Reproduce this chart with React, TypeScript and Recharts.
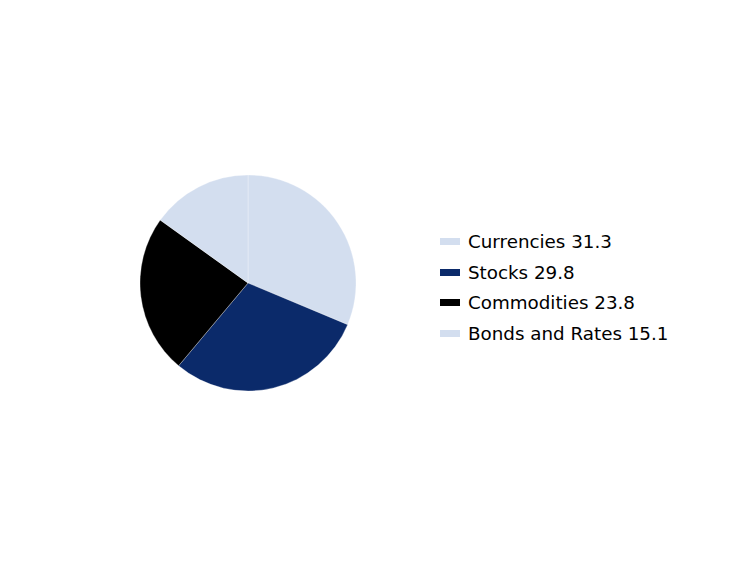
import { PieChart, Pie, Cell, Legend } from "recharts";

const categories = ["Currencies", "Stocks", "Commodities", "Bonds and Rates"];
const shares = [31.3, 29.8, 23.8, 15.1];
const colors = ["#d3deef", "#0b2a6a", "#000000", "#d3deef"];

const data = categories.map((name, i) => ({ name, value: shares[i] }));

const renderLegend = () => (
  <div style={{ fontFamily: "DejaVu Sans", fontSize: 18.3, color: "#000" }}>
    {data.map((d, i) => (
      <div key={d.name} style={{ display: "flex", alignItems: "center", height: 30.7 }}>
        <span
          style={{
            display: "inline-block",
            width: 20,
            height: 7,
            background: colors[i],
            marginRight: 8,
          }}
        />
        <span>
          {d.name} {d.value.toFixed(1)}
        </span>
      </div>
    ))}
  </div>
);

export default function App() {
  return (
    <div style={{ position: "absolute", left: 0, top: 0, width: 744, height: 576, background: "#fff" }}>
      <PieChart width={744} height={576} margin={{ top: 0, right: 0, bottom: 0, left: 0 }}>
        <Pie
          data={data}
          dataKey="value"
          nameKey="name"
          cx={248}
          cy={283}
          outerRadius={108}
          startAngle={90}
          endAngle={-270}
          stroke="#ffffff"
          strokeWidth={0.3}
          isAnimationActive={false}
        >
          {data.map((d, i) => (
            <Cell key={d.name} fill={colors[i]} />
          ))}
        </Pie>
        <Legend
          content={renderLegend}
          layout="vertical"
          wrapperStyle={{ position: "absolute", left: 440, top: 226, width: 300 }}
        />
      </PieChart>
    </div>
  );
}
